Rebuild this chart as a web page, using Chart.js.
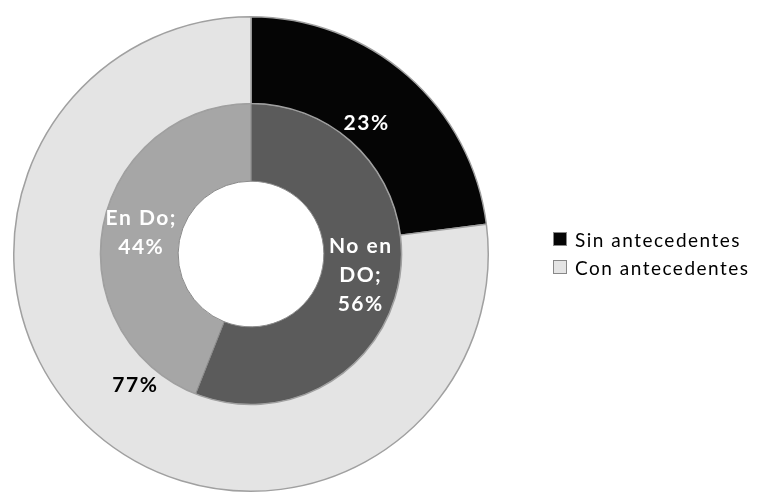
<!DOCTYPE html>
<html>
<head>
<meta charset="utf-8">
<script src="https://cdn.jsdelivr.net/npm/chart.js@4.4.1/dist/chart.umd.min.js"></script>
<style>
  html, body { margin: 0; padding: 0; background: #fff; }
  #wrap { position: relative; width: 760px; height: 495px; }
  #legend { position: absolute; left: 553px; top: 225px; font-family: Lato, "Open Sans", sans-serif; font-size: 19px; letter-spacing: 1.5px; color: #000; }
  .legend-item { display: flex; align-items: center; height: 28px; }
  .legend-box { width: 14px; height: 14px; margin-right: 8px; box-sizing: border-box; border: 1px solid #888; }
</style>
</head>
<body>
<div id="wrap">
  <canvas id="myDonut" width="760" height="495"></canvas>
  <div id="legend"></div>
</div>
<script>
// anillo exterior
const outerLabels = ['Sin antecedentes', 'Con antecedentes'];
const outerValues = [23, 77];
const outerColors = ['#050505', '#e4e4e4'];
const outerText = ['23%', '77%'];

// anillo interior
const innerLabels = ['No en DO', 'En Do'];
const innerValues = [56, 44];
const innerColors = ['#5b5b5b', '#a6a6a6'];
const innerText = [['No en', 'DO;', '56%'], ['En Do;', '44%']];

// etiquetas sobre los sectores
const sliceLabels = {
  id: 'sliceLabels',
  afterDatasetsDraw(chart) {
    const ctx = chart.ctx;
    ctx.save();
    ctx.font = 'bold 21px Lato, "Open Sans", sans-serif';
    ctx.letterSpacing = '1.5px';
    ctx.textAlign = 'center';
    ctx.textBaseline = 'middle';
    chart.data.datasets.forEach((ds, di) => {
      const meta = chart.getDatasetMeta(di);
      meta.data.forEach((arc, i) => {
        const p = arc.getProps(['x', 'y', 'startAngle', 'endAngle', 'innerRadius', 'outerRadius'], true);
        const mid = (p.startAngle + p.endAngle) / 2;
        const r = p.innerRadius + (p.outerRadius - p.innerRadius) * ds.labelPos;
        const x = p.x + r * Math.cos(mid);
        const y = p.y + r * Math.sin(mid);
        const lines = [].concat(ds.labelText[i]);
        const lh = 29;
        ctx.fillStyle = ds.labelColor[i];
        lines.forEach((t, k) => {
          ctx.fillText(t, x, y + (k - (lines.length - 1) / 2) * lh);
        });
      });
    });
    ctx.restore();
  }
};

const ctx = document.getElementById('myDonut').getContext('2d');

let myDonut = new Chart(ctx, {
  type: 'doughnut',
  data: {
    labels: outerLabels,
    datasets: [{
      data: outerValues,
      backgroundColor: outerColors,
      borderColor: '#a0a0a0',
      borderWidth: 1.5,
      weight: 87,
      labelPos: 0.28,
      labelText: outerText,
      labelColor: ['#ffffff', '#000000']
    }, {
      data: innerValues,
      backgroundColor: innerColors,
      borderColor: '#8a8a8a',
      borderWidth: 1,
      weight: 78,
      labelPos: 0.5,
      labelText: innerText,
      labelColor: ['#ffffff', '#ffffff']
    }]
  },
  options: {
    responsive: false,
    animation: false,
    cutout: '30.7%',
    layout: { padding: { left: 12, top: 16, bottom: 3, right: 270 } },
    plugins: {
      legend: { display: false },
      tooltip: { enabled: false }
    }
  },
  plugins: [sliceLabels]
});

// легенда
const legend = document.getElementById('legend');
outerLabels.forEach((name, i) => {
  const item = document.createElement('div');
  item.className = 'legend-item';
  item.innerHTML = '<span class="legend-box" style="background:' + outerColors[i] + '"></span>' + name;
  legend.appendChild(item);
});
</script>
</body>
</html>
